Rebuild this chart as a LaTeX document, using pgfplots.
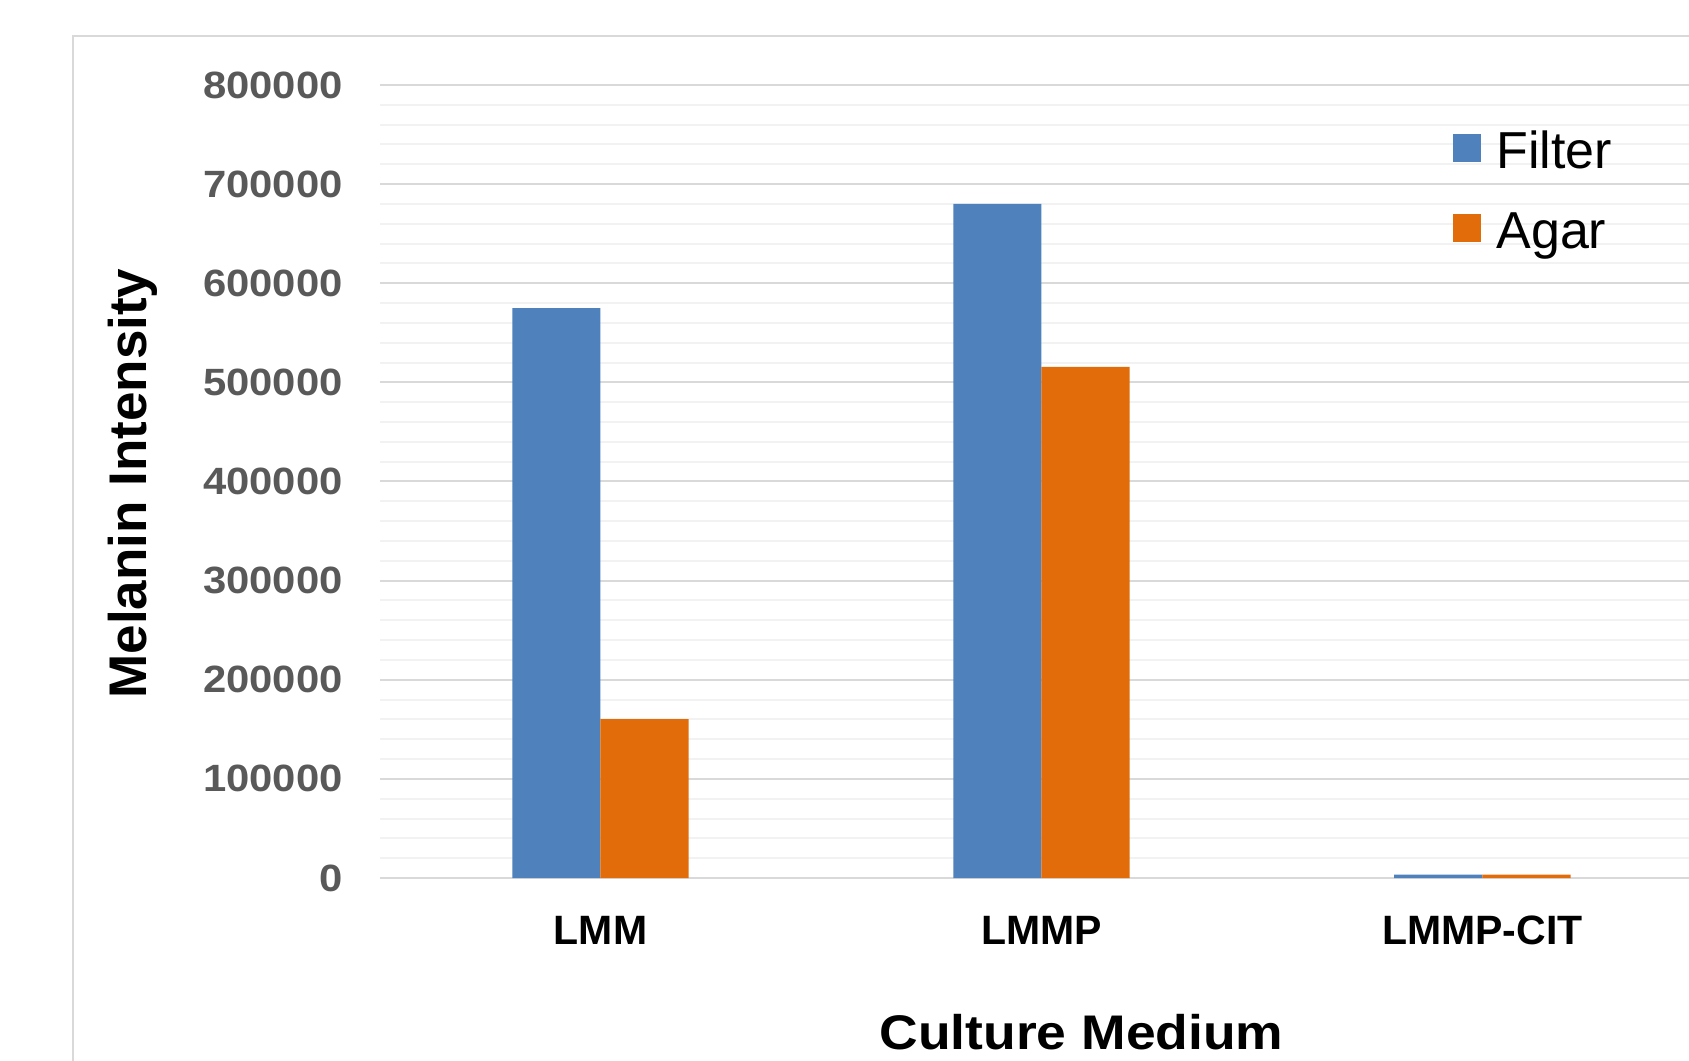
\documentclass[border=0pt]{standalone}
\usepackage{pgfplots}
\pgfplotsset{compat=1.18}
\usepackage{fontspec}
\setmainfont{Liberation Sans}
\newfontfamily\widefont{Liberation Sans}[FakeStretch=1.1]
\definecolor{cFilter}{HTML}{4F81BD}
\definecolor{cAgar}{HTML}{E36C0A}
\definecolor{gridmaj}{HTML}{D9D9D9}
\definecolor{gridmin}{HTML}{F2F2F2}
\definecolor{ticktext}{HTML}{595959}
\begin{document}
\begin{tikzpicture}
\useasboundingbox (0,0) rectangle (844.5pt,530pt);
\clip (0,0) rectangle (844.5pt,530pt);
\fill[white] (0,0) rectangle (844.5pt,530pt);
\draw[gridmaj, line width=1pt, fill=white] (36.5pt,-10pt) rectangle (900pt,512pt);
\begin{axis}[
  at={(190pt,91pt)}, anchor=south west,
  scale only axis, width=654.5pt, height=396.5pt,
  xmin=-0.5, xmax=2.4685, ymin=0, ymax=800000,
  ybar=0pt, bar width=0.2,
  xtick={0,1,2}, xticklabels={LMM,LMMP,LMMP-CIT},
  ytick={0,100000,200000,300000,400000,500000,600000,700000,800000},
  minor y tick num=4,
  ymajorgrids, yminorgrids,
  major grid style={gridmaj, line width=1pt},
  minor grid style={gridmin, line width=1pt},
  axis line style={draw=none},
  major tick style={draw=none}, minor tick style={draw=none},
  scaled y ticks=false,
  yticklabel style={/pgf/number format/fixed, /pgf/number format/1000 sep={},
    /pgf/number format/assume math mode=true,
    anchor=east, inner sep=0pt, xshift=-18.5pt,
    font=\widefont\bfseries\fontsize{19}{22}\selectfont, text=ticktext},
  xticklabel style={anchor=base, inner sep=0pt, yshift=-29pt,
    font=\bfseries\fontsize{20.5}{24}\selectfont, text=black},
  legend style={at={(axis description cs:0.8197,0.943)}, anchor=north west,
    draw=none, fill=none, inner sep=0pt, row sep=20.6pt, column sep=7.5pt,
    font=\fontsize{26}{30}\selectfont, nodes={inner sep=0pt},
    cells={anchor=base west}},
  legend image code/.code={\fill[#1] (0pt,3.3pt) rectangle (14pt,17.3pt);},
]
\addplot[fill=cFilter, draw=none] coordinates {(0,575000) (1,680000) (2,3500)};
\addplot[fill=cAgar, draw=none] coordinates {(0,160400) (1,515600) (2,3500)};
\legend{Filter,Agar}
\end{axis}
\node[rotate=90, anchor=base, inner sep=0pt, font=\bfseries\fontsize{26.5}{30}\selectfont] at (73pt,288.2pt) {Melanin Intensity};
\node[anchor=base, inner sep=0pt, font=\widefont\bfseries\fontsize{24.3}{28}\selectfont] at (540.75pt,5.2pt) {Culture Medium};
\end{tikzpicture}
\end{document}
